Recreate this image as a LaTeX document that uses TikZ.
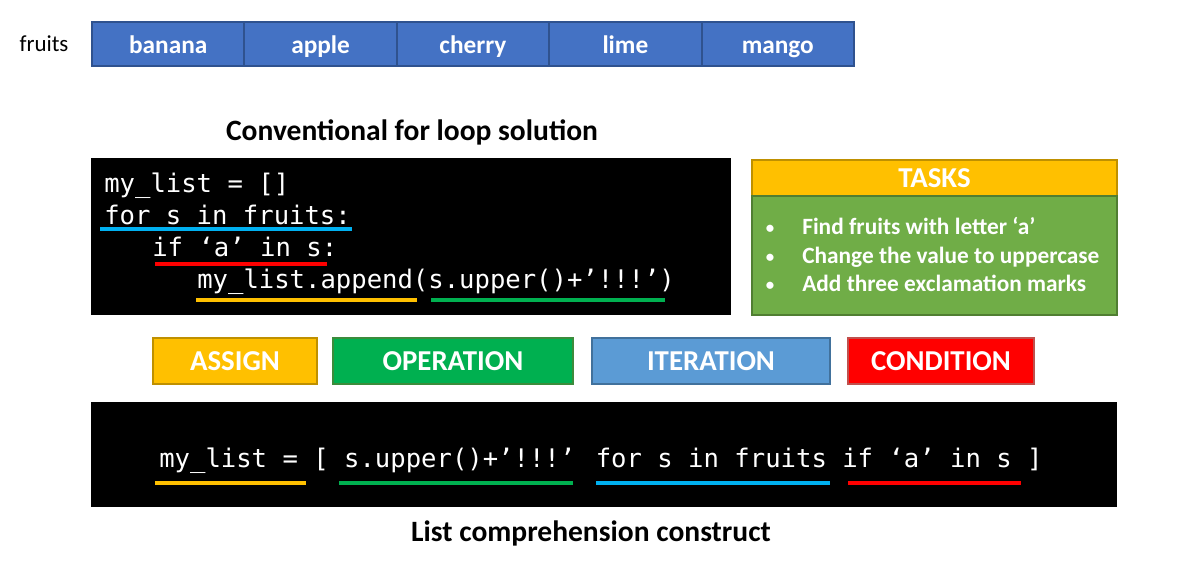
\documentclass[tikz,border=0pt]{standalone}
\usepackage{fontspec}
\setmainfont{Carlito}
\newfontfamily\codefont{DejaVu Sans Mono}
\usetikzlibrary{positioning}
\definecolor{cellblue}{HTML}{4472C4}
\definecolor{cellline}{HTML}{2F528F}
\definecolor{asgfill}{HTML}{FFC000}
\definecolor{asgline}{HTML}{BF9000}
\definecolor{opfill}{HTML}{00B050}
\definecolor{opline}{HTML}{3C8C3C}
\definecolor{itfill}{HTML}{5B9BD5}
\definecolor{itline}{HTML}{41719C}
\definecolor{cdfill}{HTML}{FF0000}
\definecolor{cdline}{HTML}{C0504D}
\definecolor{taskgreen}{HTML}{70AD47}
\definecolor{taskline}{HTML}{507E32}
\definecolor{ulblue}{HTML}{00B0F0}
\newcommand\pxu{0.025cm}

\begin{document}
\begin{tikzpicture}[
  x=0.025cm,y=-0.025cm,
  cell/.style={draw=cellline,fill=cellblue,line width=1.4pt,inner sep=0pt,
    minimum width=152.4*\pxu,minimum height=44*\pxu,text=white,
    text height=14pt,text depth=1.2pt,
    font=\fontsize{18}{20}\selectfont\bfseries},
  legend/.style={line width=1.4pt,inner sep=0pt,minimum height=46*\pxu,
    text height=13pt,text depth=0pt,
    text=white,font=\fontsize{20.5}{22}\selectfont\bfseries},
  title/.style={font=\fontsize{21}{24}\selectfont\bfseries},
  code/.style={anchor=base west,inner sep=0pt,text=white,
    font=\codefont\fontsize{18.2}{20}\selectfont},
  task/.style={anchor=base west,inner sep=0pt,text=white,
    font=\fontsize{16.6}{18}\selectfont\bfseries},
  dot/.style={anchor=base,inner sep=0pt,text=white,
    font=\fontsize{12}{14}\selectfont\bfseries},
  uline/.style={line width=3pt}
]
\useasboundingbox (0,0) rectangle (1186,581);

\node[font=\fontsize{16.3}{18}\selectfont] (fruits) at (44,44) {fruits};
\foreach \name [count=\i from 0] in {banana,apple,cherry,lime,mango}
  \node[cell] (\name) at (168.2+152.4*\i,44) {\name};

\node[title] (looptitle) at (412,132) {Conventional for loop solution};
\fill (91,158) rectangle (731,315);
\node[code] (l1) at (104,192) {my\_list = []};
\node[code] (l2) at (104,224) {for s in fruits:};
\node[code] (l3) at (152,256) {if ‘a’ in s:};
\node[code] (l4) at (197,288) {my\_list.append(s.upper()+’!!!’)};
\draw[uline,ulblue] (100,229) -- (352,229);
\draw[uline,red] (155,264) -- (327,264);
\draw[uline,asgfill] (196,300) -- (417,300);
\draw[uline,opfill] (431,300) -- (665,300);

\node[draw=asgline,fill=asgfill,line width=1.2pt,minimum width=365*\pxu,
  minimum height=36*\pxu,inner sep=0pt,text=white,
  font=\fontsize{20.5}{22}\selectfont\bfseries] (tasks) at (934.5,178) {TASKS};
\node[draw=taskline,fill=taskgreen,line width=1.2pt,minimum width=365*\pxu,
  minimum height=119*\pxu,inner sep=0pt] (taskbody) at (934.5,255.5) {};
\node[task] (t1) at (802,234) {Find fruits with letter ‘a’};
\node[task] (t2) at (802,263) {Change the value to uppercase};
\node[task] (t3) at (802,291) {Add three exclamation marks};
\foreach \y in {233,262,290}
  \node[dot] at (770,\y) {•};

\node[legend,draw=asgline,fill=asgfill,minimum width=164*\pxu] (assign) at (235,361) {ASSIGN};
\node[legend,draw=opline,fill=opfill,minimum width=240*\pxu] (operation) at (453,361) {OPERATION};
\node[legend,draw=itline,fill=itfill,minimum width=238*\pxu] (iteration) at (711,361) {ITERATION};
\node[legend,draw=cdline,fill=cdfill,minimum width=186*\pxu] (condition) at (941,361) {CONDITION};

\fill (91,402) rectangle (1117,507);
\node[code] (comp) at (159,467) {my\_list = [ s.upper()+’!!!’ for s in fruits if ‘a’ in s ]};
\draw[uline,asgfill] (155,483) -- (306,483);
\draw[uline,opfill] (339,483) -- (573,483);
\draw[uline,ulblue] (596,483) -- (830,483);
\draw[uline,red] (848,483) -- (1021,483);
\node[title] (comptitle) at (591,533) {List comprehension construct};
\end{tikzpicture}
\end{document}
